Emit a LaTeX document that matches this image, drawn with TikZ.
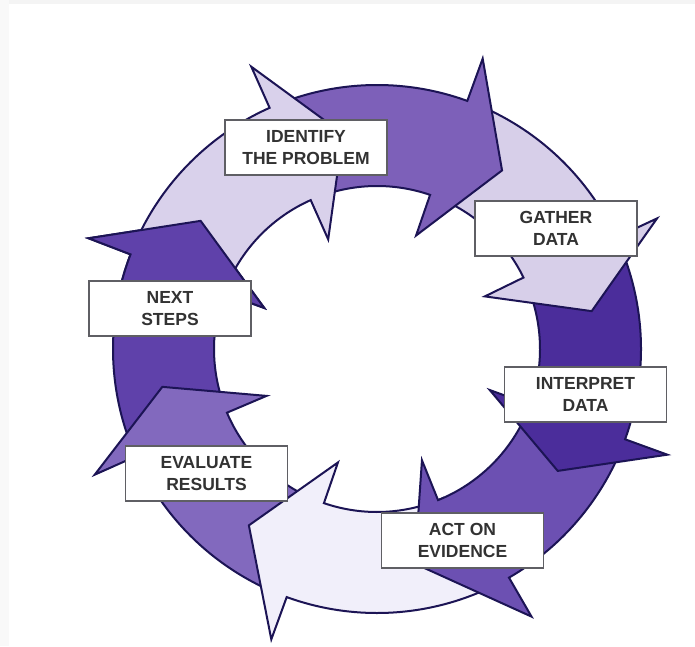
\documentclass[tikz,border=0pt]{standalone}
\usepackage{fontspec}
\setmainfont{Liberation Sans}
\definecolor{cA}{RGB}{217,209,235}
\definecolor{cB}{RGB}{125,96,185}
\definecolor{cC}{RGB}{215,207,233}
\definecolor{cD}{RGB}{75,45,155}
\definecolor{cE}{RGB}{108,80,178}
\definecolor{cF}{RGB}{241,239,250}
\definecolor{cG}{RGB}{130,105,190}
\definecolor{cH}{RGB}{95,65,170}
\definecolor{ringline}{RGB}{28,20,85}
\definecolor{boxline}{RGB}{95,95,100}
\definecolor{labeltext}{RGB}{50,50,50}
\def\Rout{264pt}
\def\Rin{163pt}
\def\Rbo{309pt}
\def\Rbi{120pt}
\def\Rtip{218pt}
% #1 fill colour, #2 tail angle, #3 outer head base angle,
% #4 inner head base angle, #5 tip angle (clockwise: #2 > #3)
\newcommand{\ringarrow}[5]{%
  \filldraw[arrowshape, fill=#1] (#2:\Rout)
    arc[start angle=#2, end angle=#3, radius=\Rout]
    -- (#3:\Rbo) -- (#5:\Rtip) -- (#4:\Rbi) -- (#4:\Rin)
    arc[start angle=#4, end angle=#2, radius=\Rin] -- cycle;}
\tikzset{
  arrowshape/.style={draw=ringline, line width=2pt, line join=miter},
  labelbox/.style={draw=boxline, line width=1.4pt, fill=white,
    minimum width=162pt, minimum height=55pt, inner sep=0pt, align=center,
    font=\fontsize{17.5}{22}\selectfont\bfseries, text=labeltext},
}
\begin{document}
\begin{tikzpicture}[x=1pt,y=1pt]
\useasboundingbox (0,0) rectangle (695,646);
\fill[white] (0,0) rectangle (695,646);
\fill[gray!9] (0,642) rectangle (695,646);
\fill[gray!5] (0,0) rectangle (9,646);
\begin{scope}[shift={(377pt,297pt)}]
  \ringarrow{cH}{202}{159}{160}{144}
  \ringarrow{cG}{-113}{-156}{-157}{-170}
  \ringarrow{cF}{-66}{-110}{-109}{-126}
  \ringarrow{cE}{-23}{-60}{-68}{-80}
  \ringarrow{cD}{22}{-20}{-20}{-34}
  \ringarrow{cC}{67}{25}{26}{10}
  \ringarrow{cB}{112}{70}{71}{55}
  \ringarrow{cA}{157}{114}{114}{99}
  \begin{scope}
    \clip (0,0) -- (125:420pt) -- (150:420pt) -- (176:420pt) -- cycle;
    \ringarrow{cH}{202}{159}{160}{144}
  \end{scope}
\end{scope}
\node[labelbox] (identify) at (306,498.5) {IDENTIFY\\THE PROBLEM};
\node[labelbox] (gather) at (556,417.5) {GATHER\\DATA};
\node[labelbox] (interpret) at (585.5,251.5) {INTERPRET\\DATA};
\node[labelbox] (act) at (462.5,105.5) {ACT ON\\EVIDENCE};
\node[labelbox] (evaluate) at (206.5,172.5) {EVALUATE\\RESULTS};
\node[labelbox] (next) at (170,337.5) {NEXT\\STEPS};
\end{tikzpicture}
\end{document}
